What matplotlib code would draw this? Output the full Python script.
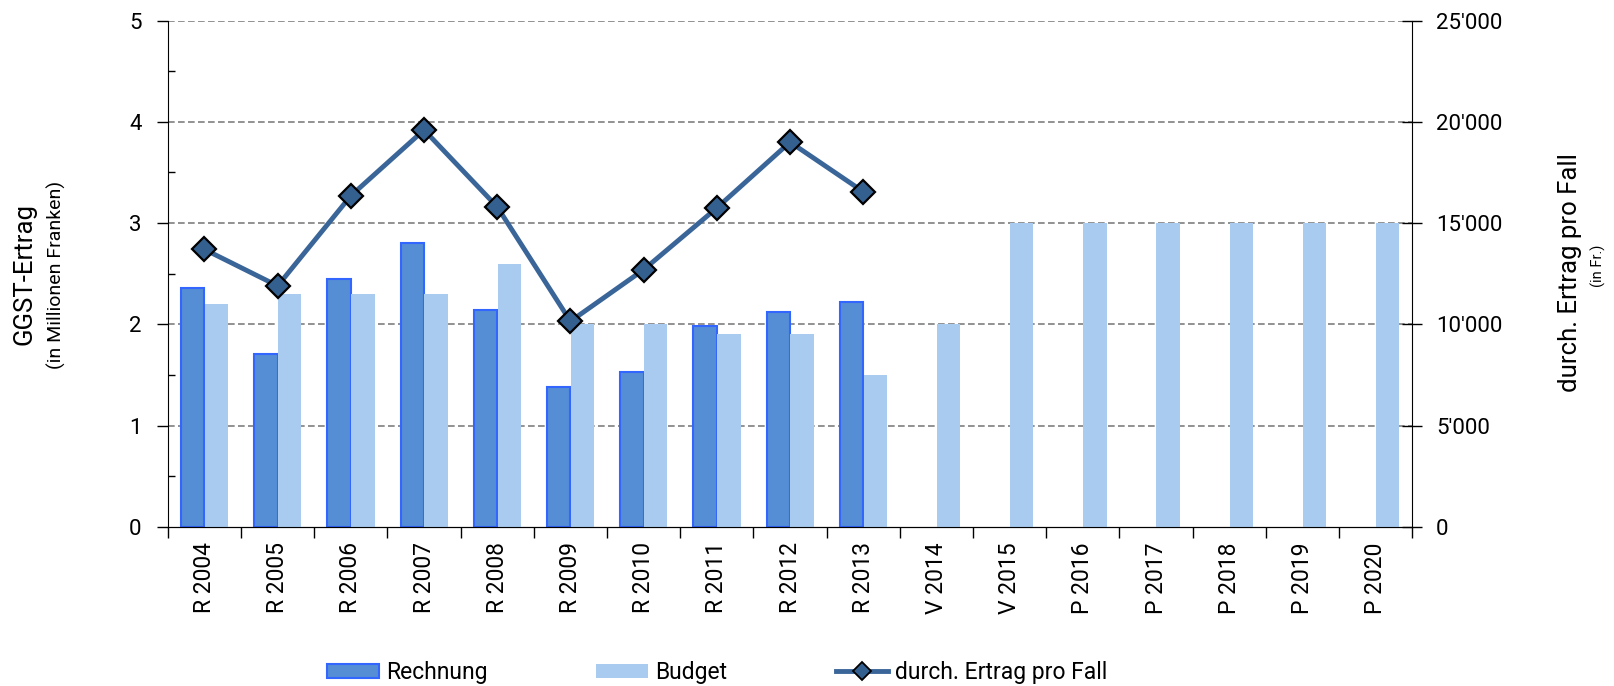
import numpy as np
import matplotlib
matplotlib.use("Agg")
import matplotlib.pyplot as plt
from matplotlib.ticker import FuncFormatter, MultipleLocator
from matplotlib.lines import Line2D
from matplotlib.patches import Patch

plt.rcParams['font.family'] = ['Roboto', 'DejaVu Sans']

# data
labels = ["R 2004", "R 2005", "R 2006", "R 2007", "R 2008", "R 2009", "R 2010",
          "R 2011", "R 2012", "R 2013", "V 2014", "V 2015", "P 2016", "P 2017",
          "P 2018", "P 2019", "P 2020"]
rechnung = [2.36, 1.71, 2.45, 2.80, 2.14, 1.38, 1.53, 1.98, 2.12, 2.22]
budget = [2.2, 2.3, 2.3, 2.3, 2.6, 2.0, 2.0, 1.9, 1.9, 1.5, 2.0,
          3.0, 3.0, 3.0, 3.0, 3.0, 3.0]
ertrag_pro_fall = [13700, 11900, 16350, 19600, 15800, 10150, 12700, 15750, 19000, 16550]

c_rech = "#558ED5"
c_rech_edge = "#3366FF"
c_budget = "#A9CBEF"
c_line = "#3A6598"
c_marker = "#34608F"

fig = plt.figure(figsize=(16.14, 6.86), dpi=100)
ax = fig.add_axes([0.104, 0.232, 0.771, 0.738])

x = np.arange(len(labels))
w = 0.32
ax.bar(x[:len(rechnung)] - w / 2, rechnung, width=w, color=c_rech,
       edgecolor=c_rech_edge, linewidth=1.5, zorder=2)
ax.bar(x + w / 2 + 0.005, budget, width=w, color=c_budget, linewidth=0, zorder=3)

ax.set_xlim(-0.5, len(labels) - 0.5)
ax.set_ylim(0, 5)
ax.yaxis.set_major_locator(MultipleLocator(1))
ax.yaxis.set_minor_locator(MultipleLocator(0.5))
ax.tick_params(axis='y', which='major', direction='out', length=8, width=1,
               labelsize=16, pad=11)
ax.tick_params(axis='y', which='minor', direction='in', length=5, width=1)
for yv in range(1, 6):
    ax.axhline(yv, color="#7F7F7F", linestyle=(0, (4, 2)), linewidth=1.2, zorder=1)

# category ticks between groups, labels centred
ax.set_xticks(np.arange(-0.5, len(labels) + 0.5, 1))
ax.set_xticklabels([])
ax.set_xticks(x, minor=True)
ax.set_xticklabels(labels, minor=True, rotation=90, fontsize=16.5)
ax.tick_params(axis='x', which='major', direction='out', length=8, width=1)
ax.tick_params(axis='x', which='minor', length=0, pad=11)

ax.spines['top'].set_visible(False)
ax.spines['right'].set_visible(False)

ax2 = ax.twinx()
ax2.set_ylim(0, 25000)
ax2.yaxis.set_major_locator(MultipleLocator(5000))
ax2.yaxis.set_major_formatter(FuncFormatter(
    lambda v, p: "0" if v == 0 else "{:,}".format(int(v)).replace(",", "'")))
ax2.tick_params(axis='y', direction='inout', length=14, width=1, labelsize=16, pad=10)
ax2.spines['top'].set_visible(False)
ax2.spines['left'].set_visible(False)
ax2.plot(x[:len(ertrag_pro_fall)], ertrag_pro_fall, color=c_line, linewidth=3.5,
         marker='D', markersize=12, markerfacecolor=c_marker,
         markeredgecolor='black', markeredgewidth=1.6, zorder=5)

# axis titles
fig.text(0.015, 0.600, "GGST-Ertrag", rotation=90, ha='center', va='center', fontsize=18.5)
fig.text(0.035, 0.599, "(in Millionen Franken)", rotation=90, ha='center', va='center',
         fontsize=14)
fig.text(0.973, 0.603, "durch. Ertrag pro Fall", rotation=90, ha='center', va='center',
         fontsize=18.5)
fig.text(0.990, 0.612, "(in Fr.)", rotation=90, ha='center', va='center', fontsize=10.5)

handles = [Patch(facecolor=c_rech, edgecolor=c_rech_edge, linewidth=1.5),
           Patch(facecolor=c_budget, edgecolor='none'),
           Line2D([0], [0], color=c_line, linewidth=3.5, marker='D', markersize=9,
                  markerfacecolor=c_marker, markeredgecolor='black', markeredgewidth=1.3)]
fig.legend(handles, ["Rechnung", "Budget", "durch. Ertrag pro Fall"], ncol=3,
           loc='center left', bbox_to_anchor=(327 / 1614, 0.020), frameon=False,
           fontsize=16.5, borderpad=0, borderaxespad=0,
           handlelength=2.27, handleheight=0.55, handletextpad=0.3, columnspacing=4.75)

fig.savefig("out.png", dpi=100)
